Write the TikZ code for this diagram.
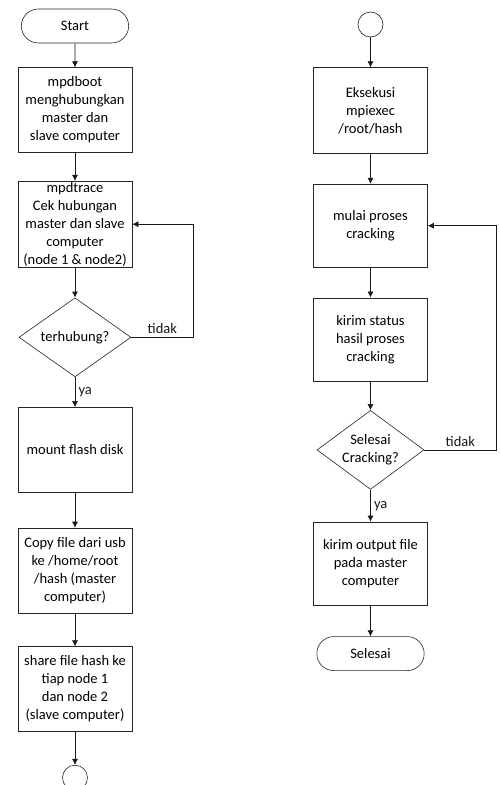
\documentclass[tikz,border=0pt]{standalone}
\usepackage{fontspec}
\setmainfont{Carlito}
\usepackage{tikz}
\usetikzlibrary{positioning,arrows.meta,shapes.geometric,shapes.misc}
\tikzset{
  proc/.style={rectangle,draw=black!85,line width=0.6pt,align=center,minimum width=114pt,minimum height=85pt,inner xsep=2pt,fill=white,font=\fontsize{14.5pt}{18pt}\selectfont},
  terminal/.style={rounded rectangle,draw=black!85,line width=0.6pt,minimum width=114pt,minimum height=34pt,fill=white,font=\fontsize{14.5pt}{18pt}\selectfont},
  decision/.style={diamond,draw=black!85,line width=0.6pt,aspect=1.4,inner sep=0pt,minimum width=112pt,minimum height=79pt,align=center,font=\fontsize{14.5pt}{18pt}\selectfont},
  connector/.style={circle,draw=black!85,line width=0.6pt,minimum size=25pt,inner sep=0pt},
  flowline/.style={-{Latex[length=6pt,width=6pt]},line width=0.6pt,black!90},
  lbl/.style={font=\fontsize{14.5pt}{18pt}\selectfont}
}

\begin{document}
\begin{tikzpicture}[node distance=30pt]
  \useasboundingbox[fill=white] (0,0) rectangle (499pt,-785pt);
  % kolom kiri
  \node[terminal] (start) at (75pt,-26pt) {Start};
  \node[proc,below=24pt of start] (boot) {mpdboot\\menghubungkan\\master dan\\slave computer};
  \node[proc,below=28pt of boot,inner ysep=0pt,minimum height=86pt] (trace) {mpdtrace\\Cek hubungan\\master dan slave\\computer\\(node 1 \& node2)};
  \node[decision,below=of trace] (hubung) {terhubung?};
  \node[proc,below=of hubung] (mount) {mount flash disk};
  \node[proc,below=35pt of mount] (copy) {Copy file dari usb\\ke /home/root\\/hash (master\\computer)};
  \node[proc,below=33pt of copy] (share) {share file hash ke\\tiap node 1\\dan node 2\\(slave computer)};
  \node[connector,below=33pt of share] (endcirc) {};
  \draw[flowline] (start) -- (boot);
  \draw[flowline] (boot) -- (trace);
  \draw[flowline] (trace) -- (hubung);
  \draw[flowline] (hubung) -- node[lbl,right]{ya} (mount);
  \draw[flowline] (hubung.east) -- node[lbl,above]{tidak} ++(62pt,0) |- (trace.east);
  \draw[flowline] (mount) -- (copy);
  \draw[flowline] (copy) -- (share);
  \draw[flowline] (share) -- (endcirc);
  % kolom kanan
  \node[connector] (topcirc) at (370.5pt,-24.5pt) {};
  \node[proc,below=of topcirc,minimum height=86pt] (eksekusi) {Eksekusi\\mpiexec\\/root/hash};
  \node[proc,below=of eksekusi,minimum height=83pt] (mulai) {mulai proses\\cracking};
  \node[proc,below=of mulai,minimum height=83pt] (status) {kirim status\\hasil proses\\cracking};
  \node[decision,below=29pt of status,minimum width=107pt] (cekselesai) {Selesai\\Cracking?};
  \node[proc,below=32pt of cekselesai,minimum height=83pt] (output) {kirim output file\\pada master\\computer};
  \node[terminal,below=31pt of output] (selesai) {Selesai};
  \draw[flowline] (topcirc) -- (eksekusi);
  \draw[flowline] (eksekusi) -- (mulai);
  \draw[flowline] (mulai) -- (status);
  \draw[flowline] (status) -- (cekselesai);
  \draw[flowline] (cekselesai) -- node[lbl,right]{ya} (output);
  \draw[flowline] (cekselesai.east) -- node[lbl,above]{tidak} ++(72pt,0) |- (mulai.east);
  \draw[flowline] (output) -- (selesai);
\end{tikzpicture}
\end{document}
